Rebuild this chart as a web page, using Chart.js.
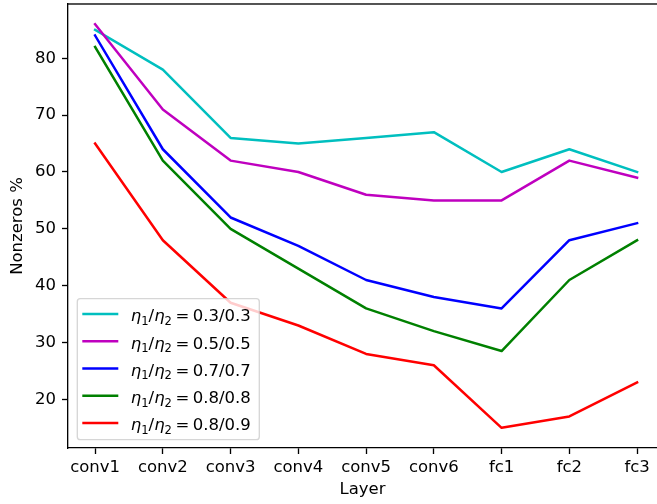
<!DOCTYPE html>
<html><head><meta charset="utf-8">
<script src="https://cdn.jsdelivr.net/npm/chart.js@4/dist/chart.umd.min.js"></script>
<style>
html,body{margin:0;padding:0;overflow:hidden;background:#fff;width:657px;height:504px}
canvas{display:block}
</style></head><body>
<canvas id="c" width="657" height="504"></canvas>
<script>
const layers = ['conv1','conv2','conv3','conv4','conv5','conv6','fc1','fc2','fc3'];
const etaLabels = ['0.3/0.3','0.5/0.5','0.7/0.7','0.8/0.8','0.8/0.9'];
const s03 = [85, 78, 66, 65, 66, 67, 60, 64, 60];
const s05 = [86, 71, 62, 60, 56, 55, 55, 62, 59];
const s07 = [84, 64, 52, 47, 41, 38, 36, 48, 51];
const s08 = [82, 62, 50, 43, 36, 32, 28.5, 41, 48];
const s089 = [65, 48, 37, 33, 28, 26, 15, 17, 23];
const yTicks = [20, 30, 40, 50, 60, 70, 80];
const colors = ['#00bfbf', '#bf00bf', '#0000ff', '#008000', '#ff0000'];

const FS = 16.5;
const FONT = 'DejaVu Sans';
const seriesList = [s03, s05, s07, s08, s089];

const datasets = seriesList.map((s, i) => ({
  label: etaLabels[i],
  data: s.map((v, j) => ({x: j, y: v})),
  borderColor: colors[i],
  backgroundColor: colors[i],
  borderWidth: 2.5,
  pointRadius: 0,
  tension: 0,
  fill: false,
  borderCapStyle: 'square',
  borderJoinStyle: 'round',
  order: 5 - i
}));

const framePlugin = {
  id: 'frame',
  afterDraw(chart) {
    const {ctx, chartArea: a} = chart;
    ctx.save();
    ctx.fillStyle = '#000';
    ctx.fillRect(a.left, Math.round(a.top) - 0.67, chart.width - a.left, 1.33);
    ctx.restore();
  }
};

function roundRect(ctx, x, y, w, h, r) {
  ctx.beginPath();
  ctx.moveTo(x + r, y);
  ctx.lineTo(x + w - r, y);
  ctx.arcTo(x + w, y, x + w, y + r, r);
  ctx.lineTo(x + w, y + h - r);
  ctx.arcTo(x + w, y + h, x + w - r, y + h, r);
  ctx.lineTo(x + r, y + h);
  ctx.arcTo(x, y + h, x, y + h - r, r);
  ctx.lineTo(x, y + r);
  ctx.arcTo(x, y, x + r, y, r);
  ctx.closePath();
}

const legendPlugin = {
  id: 'mplLegend',
  afterDraw(chart) {
    const {ctx, chartArea: a} = chart;
    const bx = a.left + 9.3, bw = 182, bh = 141;
    const by = a.bottom - 8.3 - bh;
    ctx.save();
    roundRect(ctx, bx, by, bw, bh, 3);
    ctx.fillStyle = 'rgba(255,255,255,0.8)';
    ctx.fill();
    ctx.strokeStyle = 'rgba(204,204,204,0.8)';
    ctx.lineWidth = 1.33;
    ctx.stroke();
    const ds = chart.data.datasets;
    const italic = `italic ${FS}px "${FONT}"`;
    const normal = `${FS}px "${FONT}"`;
    const sub = `${(FS * 0.7).toFixed(2)}px "${FONT}"`;
    ds.forEach((d, i) => {
      const cy = by + 15.3 + i * 27.25;
      ctx.strokeStyle = d.borderColor;
      ctx.lineWidth = 2.5;
      ctx.lineCap = 'butt';
      ctx.beginPath();
      ctx.moveTo(bx + 5, cy);
      ctx.lineTo(bx + 41, cy);
      ctx.stroke();
      ctx.fillStyle = '#000';
      ctx.textBaseline = 'alphabetic';
      ctx.textAlign = 'left';
      const base = cy + 7.3;
      let x = bx + 53.5;
      const put = (t, f, dy) => {
        ctx.font = f;
        ctx.fillText(t, x, base + dy);
        x += ctx.measureText(t).width;
      };
      put('η', italic, 0);
      put('1', sub, 3.6);
      put('/', normal, 0);
      put('η', italic, 0);
      put('2', sub, 3.6);
      x += 3.5;
      put('=', normal, 0);
      x += 3.5;
      put(d.label, normal, 0);
    });
    ctx.restore();
  }
};

const tickFont = {family: FONT, size: FS};

new Chart(document.getElementById('c'), {
  type: 'line',
  data: {datasets},
  options: {
    responsive: false,
    animation: false,
    devicePixelRatio: 1,
    layout: {padding: {top: 4, right: 0, left: 0, bottom: 0}},
    plugins: {legend: {display: false}, tooltip: {enabled: false}},
    scales: {
      x: {
        type: 'linear',
        min: -0.4,
        max: 8.294,
        afterBuildTicks: s => { s.ticks = layers.map((_, i) => ({value: i})); },
        ticks: {callback: v => layers[v], autoSkip: false, maxRotation: 0, color: '#000', font: tickFont, padding: 4},
        grid: {drawOnChartArea: false, drawTicks: true, tickLength: 6, tickColor: '#000', tickWidth: 1.33},
        border: {display: true, color: '#000', width: 1.33},
        title: {display: true, text: 'Layer', color: '#000', font: tickFont, padding: {top: 0, bottom: 4}},
        afterFit: s => { s.height = 56; s.paddingLeft = 0; s.paddingRight = 0; }
      },
      y: {
        type: 'linear',
        min: 11.45,
        max: 89.55,
        afterBuildTicks: s => { s.ticks = yTicks.map(v => ({value: v})); },
        ticks: {color: '#000', font: tickFont, padding: 6},
        grid: {drawOnChartArea: false, drawTicks: true, tickLength: 6, tickColor: '#000', tickWidth: 1.33},
        border: {display: true, color: '#000', width: 1.33},
        title: {display: true, text: 'Nonzeros %', color: '#000', font: tickFont, padding: {top: 8, bottom: 0}},
        afterFit: s => { s.width = 68; s.paddingTop = 0; s.paddingBottom = 0; }
      }
    }
  },
  plugins: [framePlugin, legendPlugin]
});
</script>
</body></html>
